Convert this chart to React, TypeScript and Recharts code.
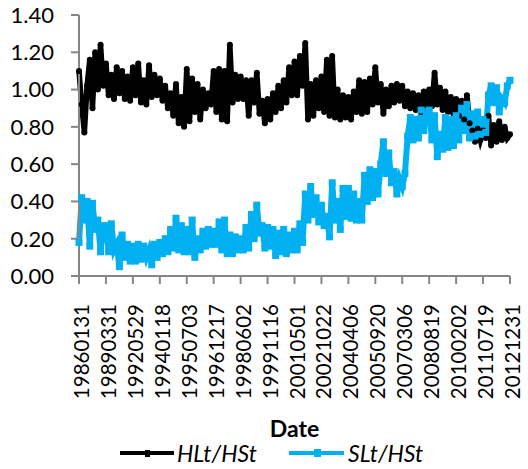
import React from "react";
import { LineChart, Line, XAxis, YAxis } from "recharts";

const tickLabels = [
  "19860131", "19890331", "19920529", "19940118", "19950703", "19961217",
  "19980602", "19991116", "20010501", "20021022", "20040406", "20050920",
  "20070306", "20080819", "20100202", "20110719", "20121231",
];

// HLt/HSt
const hlt = [
  1.10, 0.92, 0.77, 1.02, 1.16, 0.90, 1.20, 1.00, 1.24, 1.02,
  1.14, 0.97, 1.08, 0.95, 1.12, 0.98, 1.10, 0.95, 1.07, 0.94,
  1.12, 0.97, 1.14, 0.93, 1.05, 0.92, 1.13, 0.96, 1.08, 0.97,
  1.06, 0.94, 1.02, 0.90, 0.98, 0.86, 1.03, 0.82, 0.96, 0.80,
  1.11, 0.83, 1.06, 0.88, 1.03, 0.84, 1.00, 0.90, 0.98, 0.92,
  1.10, 0.88, 1.11, 0.84, 1.10, 0.83, 1.24, 0.93, 1.08, 0.95,
  1.07, 0.95, 1.05, 0.86, 1.05, 0.93, 1.09, 0.87, 0.94, 0.82,
  0.95, 0.84, 0.98, 0.88, 1.02, 0.90, 1.05, 0.93, 1.12, 0.97,
  1.15, 0.97, 1.18, 1.02, 1.25, 0.84, 1.03, 0.86, 1.05, 0.90,
  1.07, 0.88, 1.16, 0.86, 1.18, 0.85, 1.00, 0.84, 0.97, 0.85,
  0.96, 0.84, 0.99, 0.88, 1.05, 0.87, 1.04, 0.88, 1.06, 0.92,
  1.12, 0.93, 1.03, 0.87, 1.00, 0.91, 1.02, 0.93, 1.03, 0.94,
  1.02, 0.91, 0.99, 0.90, 0.98, 0.89, 0.97, 0.88, 0.99, 0.91,
  1.00, 0.91, 1.09, 0.92, 1.01, 0.89, 0.99, 0.88, 0.96, 0.87,
  0.95, 0.86, 0.94, 0.84, 0.97, 0.82, 0.78, 0.72, 0.79, 0.73,
  0.78, 0.74, 0.86, 0.70, 0.81, 0.72, 0.83, 0.73, 0.80, 0.74, 0.76,
];

// SLt/HSt
const slt = [
  0.18, 0.42, 0.30, 0.40, 0.16, 0.39, 0.25, 0.30, 0.13, 0.27,
  0.27, 0.13, 0.28, 0.14, 0.17, 0.05, 0.22, 0.10, 0.17, 0.08,
  0.16, 0.08, 0.17, 0.09, 0.16, 0.10, 0.14, 0.06, 0.17, 0.10,
  0.18, 0.12, 0.20, 0.13, 0.25, 0.15, 0.31, 0.14, 0.27, 0.13,
  0.25, 0.13, 0.30, 0.10, 0.20, 0.14, 0.24, 0.16, 0.25, 0.17,
  0.24, 0.17, 0.29, 0.14, 0.30, 0.12, 0.22, 0.12, 0.21, 0.14,
  0.20, 0.14, 0.26, 0.15, 0.33, 0.20, 0.38, 0.23, 0.27, 0.15,
  0.26, 0.16, 0.25, 0.11, 0.23, 0.13, 0.25, 0.12, 0.22, 0.14,
  0.24, 0.14, 0.28, 0.18, 0.44, 0.30, 0.48, 0.33, 0.42, 0.29,
  0.38, 0.27, 0.32, 0.21, 0.50, 0.30, 0.40, 0.25, 0.47, 0.32,
  0.47, 0.31, 0.44, 0.30, 0.40, 0.30, 0.54, 0.40, 0.57, 0.42,
  0.56, 0.44, 0.60, 0.72, 0.55, 0.66, 0.50, 0.56, 0.44, 0.52,
  0.48, 0.55, 0.75, 0.85, 0.73, 0.84, 0.74, 0.89, 0.78, 0.88,
  0.89, 0.73, 0.86, 0.64, 0.76, 0.68, 0.85, 0.69, 0.84, 0.70,
  0.86, 0.73, 0.90, 0.78, 0.92, 0.74, 0.87, 0.75, 0.88, 0.76,
  0.84, 0.77, 0.97, 1.02, 0.93, 1.01, 0.88, 0.95, 0.93, 1.02, 1.05,
];

const yTicks = [0, 0.2, 0.4, 0.6, 0.8, 1.0, 1.2, 1.4];

const data = hlt.map((h, i) => ({ i, hlt: h, slt: slt[i] }));
const step = (hlt.length - 1) / (tickLabels.length - 1);
const xTicks = tickLabels.map((_, k) => k * step);

const FONT = "Lato, 'Open Sans', sans-serif";
const BLUE = "#00b0f0";
const GRAY = "#868686";

function DateTick(props: any) {
  const { x, y, payload } = props;
  const label = tickLabels[Math.round(payload.value / step)];
  const tx = x + 2;
  return (
    <text
      x={tx}
      y={y}
      transform={`rotate(-90 ${tx} ${y})`}
      textAnchor="end"
      dominantBaseline="central"
      fontSize={20.5}
      fontFamily={FONT}
      fill="#000"
    >
      {label}
    </text>
  );
}

function SquareDot(props: any) {
  const { cx, cy, index } = props;
  if (cx == null || cy == null) return null;
  return <rect key={index} x={cx - 3.5} y={cy - 3.5} width={7} height={7} fill={BLUE} />;
}

function RoundDot(props: any) {
  const { cx, cy, index } = props;
  if (cx == null || cy == null) return null;
  return <circle key={index} cx={cx} cy={cy} r={3} fill="#000" />;
}

export default function App() {
  return (
    <div style={{ position: "absolute", left: 0, top: 0, width: 528, height: 469, background: "#fff" }}>
      <LineChart width={528} height={469} data={data} margin={{ top: 15, right: 18, left: 0, bottom: 0 }}>
        <XAxis
          dataKey="i"
          type="number"
          domain={[0, hlt.length - 1]}
          ticks={xTicks}
          interval={0}
          height={193}
          tickSize={8}
          tickMargin={20}
          tick={<DateTick />}
          tickLine={{ stroke: GRAY, strokeWidth: 2 }}
          axisLine={{ stroke: GRAY, strokeWidth: 2 }}
          label={{ value: "Date", position: "insideBottom", offset: 32, fontSize: 23, fontWeight: 700, fill: "#000", fontFamily: FONT }}
        />
        <XAxis xAxisId="top" orientation="top" type="number" domain={[0, hlt.length - 1]} height={0} tick={false} tickLine={false} axisLine={{ stroke: "#000", strokeWidth: 1.5 }} />
        <YAxis
          domain={[0, 1.4]}
          ticks={yTicks}
          width={79}
          tickSize={8}
          tickMargin={17}
          tickFormatter={(v: number) => v.toFixed(2)}
          tick={{ fontSize: 22, fontFamily: FONT, fill: "#000" }}
          tickLine={{ stroke: GRAY, strokeWidth: 2 }}
          axisLine={{ stroke: GRAY, strokeWidth: 2 }}
        />
        <YAxis yAxisId="right" orientation="right" domain={[0, 1.4]} width={0} tick={false} tickLine={false} axisLine={{ stroke: "#000", strokeWidth: 1.5 }} />
        <Line dataKey="hlt" stroke="#000" strokeWidth={5.5} dot={<RoundDot />} isAnimationActive={false} />
        <Line dataKey="slt" stroke={BLUE} strokeWidth={6} dot={<SquareDot />} isAnimationActive={false} />
      </LineChart>
      <div
        style={{
          position: "absolute", top: 438, left: 120, display: "flex", alignItems: "center",
          fontFamily: FONT, fontSize: 23, fontStyle: "italic", color: "#000", height: 30,
        }}
      >
        <span style={{ position: "relative", display: "inline-block", width: 54, height: 4, background: "#000", marginRight: 3 }}>
          <span style={{ position: "absolute", left: 25, top: -1.5, width: 5, height: 7, background: "#000" }} />
        </span>
        <span style={{ width: 112 }}>HLt/HSt</span>
        <span style={{ position: "relative", display: "inline-block", width: 55, height: 4, background: BLUE, marginRight: 4 }}>
          <span style={{ position: "absolute", left: 25, top: -2, width: 7, height: 8, background: BLUE }} />
        </span>
        <span>SLt/HSt</span>
      </div>
    </div>
  );
}
